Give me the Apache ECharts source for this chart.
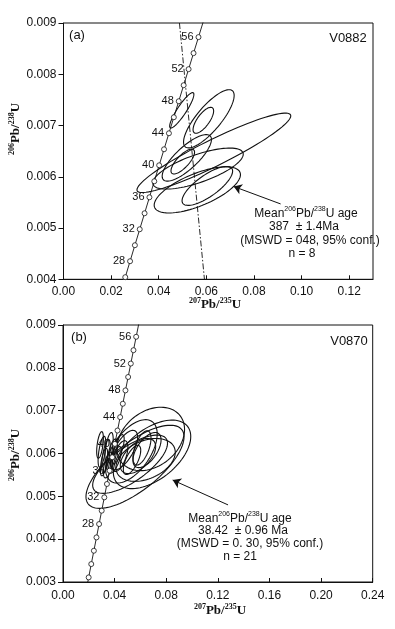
<!DOCTYPE html>
<html>
<head>
<meta charset="utf-8">
<script src="https://cdn.jsdelivr.net/npm/echarts@6/dist/echarts.min.js"></script>
<style>
  html, body { margin: 0; padding: 0; background: #fff; }
  #chart { width: 395px; height: 629px; }
</style>
</head>
<body>
<div id="chart"></div>
<script>
// concordia points (age in Ma, 207Pb/235U, 206Pb/238U)
const conAges = [18, 20, 22, 24, 26, 28, 30, 32, 34, 36, 38, 40, 42, 44, 46, 48, 50, 52, 54, 56, 58]
const conX = [0.017885, 0.019892, 0.021903, 0.023918, 0.025937, 0.027960, 0.029986, 0.032017, 0.034052, 0.036091, 0.038133,
  0.040180, 0.042231, 0.044286, 0.046345, 0.048408, 0.050475, 0.052546, 0.054621, 0.056701, 0.058784]
const conY = [0.0027961, 0.0031073, 0.0034186, 0.0037299, 0.0040414, 0.0043529, 0.0046646, 0.0049763, 0.0052882, 0.0056001, 0.0059121,
  0.0062243, 0.0065365, 0.0068488, 0.0071612, 0.0074737, 0.0077863, 0.0080990, 0.0084118, 0.0087247, 0.0090377]
const conLabelAges = [28, 32, 36, 40, 44, 48, 52, 56]

// panel (a) V0882 error ellipses
const aX = [0.04968, 0.05874, 0.06105, 0.06316, 0.05621, 0.06042, 0.05010, 0.05179, 0.05650]
const aY = [0.007297, 0.007102, 0.007131, 0.006467, 0.005744, 0.005822, 0.006297, 0.006369, 0.006160]
const aErrX = [0.00508, 0.00432, 0.01063, 0.0323, 0.01812, 0.01062, 0.00495, 0.01035, 0.01900]
const aErrY = [0.000345, 0.000253, 0.000568, 0.000775, 0.000450, 0.000380, 0.000242, 0.000454, 0.000400]
const aRho = [0.897, 0.72, 0.80, 0.93, 0.66, 0.76, 0.75, 0.79, 0.70]

// panel (b) V0870 error ellipses
const bX = [0.0558, 0.0690, 0.0680, 0.0530, 0.0520, 0.0640, 0.0581, 0.0473, 0.0651, 0.0535, 0.0442,
  0.0612, 0.0302, 0.0333, 0.0357, 0.0318, 0.0380, 0.0287, 0.0403, 0.0349, 0.0426]
const bY = [0.00569, 0.00598, 0.00634, 0.00605, 0.00575, 0.00585, 0.00594, 0.00608, 0.00608, 0.00585, 0.00594,
  0.00613, 0.00604, 0.00594, 0.00613, 0.00580, 0.00597, 0.00620, 0.00585, 0.00573, 0.00610]
const bErrX = [0.0380, 0.0300, 0.0262, 0.0200, 0.0290, 0.0230, 0.0137, 0.0105, 0.0109, 0.00674, 0.0061,
  0.0070, 0.0030, 0.0033, 0.0032, 0.0028, 0.0042, 0.0026, 0.0050, 0.0036, 0.0048]
const bErrY = [0.00097, 0.00080, 0.00074, 0.00074, 0.00068, 0.00050, 0.00041, 0.00046, 0.00041, 0.00034, 0.00036,
  0.00040, 0.00036, 0.00039, 0.00036, 0.00032, 0.00037, 0.00031, 0.00031, 0.00030, 0.00034]
const bRho = [0.72, 0.52, 0.30, 0.55, 0.72, 0.36, 0.54, 0.66, 0.58, 0.66, 0.59,
  0.57, 0.57, 0.60, 0.55, 0.60, 0.65, 0.50, 0.70, 0.55, 0.70]

// dash-dot reference line in (a)
const refX = [0.0487, 0.0592]
const refY = [0.009, 0.004]

// arrows [tailX, tailY, headX, headY]
const arrowA = [0.0912, 0.00547, 0.0715, 0.00581]
const arrowB = [0.1279, 0.00480, 0.0850, 0.00538]

const sans = 'Liberation Sans, Arial, sans-serif'
const serif = 'Liberation Serif, Times New Roman, serif'
const ink = '#111'

const chart = echarts.init(document.getElementById('chart'))

const zip = (xs, ys) => xs.map((x, i) => [x, ys[i]])
const ellRows = (xs, ys, ex, ey, r) => xs.map((x, i) => [x, ys[i], ex[i], ey[i], r[i]])

// ellipse outline from centre, errors and error correlation
const renderEllipse = (params, api) => {
  const cx = api.value(0), cy = api.value(1), sx = api.value(2), sy = api.value(3), r = api.value(4)
  const k = Math.sqrt(1 - r * r)
  const pts = []
  for (let i = 0; i < 90; i++) {
    const t = (i / 90) * Math.PI * 2
    pts.push(api.coord([cx + sx * Math.cos(t), cy + sy * (r * Math.cos(t) + k * Math.sin(t))]))
  }
  return { type: 'polygon', shape: { points: pts }, style: { fill: 'none', stroke: ink, lineWidth: 1.1 } }
}

const xAxisBase = (idx, max, interval, margin) => ({
  gridIndex: idx, type: 'value', min: 0, max, interval,
  axisLine: { lineStyle: { color: ink, width: 1 } },
  axisTick: { inside: true, length: 4, lineStyle: { color: ink } },
  axisLabel: { showMaxLabel: max === 0.24, margin, color: ink, fontSize: 12, fontFamily: sans, formatter: v => v.toFixed(2) },
  splitLine: { show: false }
})
const yAxisBase = (idx, min) => ({
  gridIndex: idx, type: 'value', min, max: 0.009, interval: 0.001,
  axisLine: { lineStyle: { color: ink, width: 1 } },
  axisTick: { inside: false, length: 5, lineStyle: { color: ink } },
  axisLabel: { margin: 7, color: ink, fontSize: 12, fontFamily: sans, formatter: v => v.toFixed(3) },
  splitLine: { show: false }
})

const concordia = idx => ({
  type: 'line', xAxisIndex: idx, yAxisIndex: idx, clip: true,
  data: zip(conX, conY),
  symbol: 'circle', symbolSize: 5, showAllSymbol: true,
  lineStyle: { color: ink, width: 0.9 },
  itemStyle: { color: '#fff', borderColor: ink, borderWidth: 0.8 },
  emphasis: { disabled: true },
  label: {
    show: true, position: 'left', distance: 2, color: ink, fontSize: 11, fontFamily: sans,
    formatter: p => (conLabelAges.includes(conAges[p.dataIndex]) ? String(conAges[p.dataIndex]) : '')
  },
  z: 3
})

const ellipses = (idx, rows) => ({
  type: 'custom', xAxisIndex: idx, yAxisIndex: idx, clip: true,
  renderItem: renderEllipse, data: rows, encode: { x: 0, y: 1 }, z: 2
})

const arrow = (idx, a) => ({
  type: 'line', xAxisIndex: idx, yAxisIndex: idx, data: [],
  markLine: {
    silent: true, symbol: ['none', 'arrow'], symbolSize: 8,
    lineStyle: { color: ink, width: 1, type: 'solid' }, label: { show: false },
    data: [[{ coord: [a[0], a[1]] }, { coord: [a[2], a[3]] }]]
  }
})

const supRich = (size, family, weight) => ({
  m: { fontSize: size, fontFamily: family, fontWeight: weight, fill: ink, verticalAlign: 'bottom', lineHeight: size + 2 },
  s: { fontSize: Math.round(size * 0.62), fontFamily: family, fontWeight: weight, fill: ink, verticalAlign: 'top', lineHeight: Math.round(size * 0.62) + 1 }
})

const txt = (x, y, text, opts = {}) => ({
  type: 'text', x, y, rotation: opts.rotation || 0,
  style: {
    text, fill: ink, align: 'center', verticalAlign: 'middle',
    font: opts.font || `12px ${sans}`, rich: opts.rich
  }
})

const axisTitleX = '{s|207}{m|Pb/}{s|235}{m|U}'
const axisTitleY = '{s|206}{m|Pb/}{s|238}{m|U}'
const meanLine = '{m|Mean}{s|206}{m|Pb/}{s|238}{m|U age}'
const titleRich = supRich(13, serif, 'bold')
const textRich = supRich(12, sans, 'normal')

chart.setOption({
  backgroundColor: '#fff',
  animation: false,
  grid: [
    { left: 63.5, top: 23, width: 309.5, height: 256.3, show: true, borderColor: ink, borderWidth: 1, backgroundColor: 'transparent' },
    { left: 63, top: 325, width: 309.7, height: 257, show: true, borderColor: ink, borderWidth: 1, backgroundColor: 'transparent' }
  ],
  xAxis: [xAxisBase(0, 0.13, 0.02, 6), xAxisBase(1, 0.24, 0.04, 8)],
  yAxis: [yAxisBase(0, 0.004), yAxisBase(1, 0.003)],
  series: [
    ellipses(0, ellRows(aX, aY, aErrX, aErrY, aRho)),
    {
      type: 'line', xAxisIndex: 0, yAxisIndex: 0, data: zip(refX, refY), symbol: 'none', clip: true,
      lineStyle: { color: ink, width: 0.9, type: [6, 2, 1.5, 2] }, z: 2
    },
    concordia(0),
    arrow(0, arrowA),
    ellipses(1, ellRows(bX, bY, bErrX, bErrY, bRho)),
    concordia(1),
    arrow(1, arrowB)
  ],
  graphic: [
    txt(77, 35, '(a)', { font: `13px ${sans}` }),
    txt(348, 38, 'V0882', { font: `13px ${sans}` }),
    txt(215, 304, axisTitleX, { rich: titleRich }),
    txt(15, 129, axisTitleY, { rich: titleRich, rotation: Math.PI / 2 }),
    txt(306, 213, meanLine, { rich: textRich }),
    txt(304, 227, '387  ± 1.4Ma'),
    txt(310, 241, '(MSWD = 048, 95% conf.)'),
    txt(302, 254, 'n = 8'),

    txt(79, 337, '(b)', { font: `13px ${sans}` }),
    txt(349, 341, 'V0870', { font: `13px ${sans}` }),
    txt(220, 610, axisTitleX, { rich: titleRich }),
    txt(15, 455, axisTitleY, { rich: titleRich, rotation: Math.PI / 2 }),
    txt(240, 518, meanLine, { rich: textRich }),
    txt(243, 531, '38.42  ± 0.96 Ma'),
    txt(250, 544, '(MSWD = 0. 30, 95% conf.)'),
    txt(240, 557, 'n = 21')
  ]
})
</script>
</body>
</html>
